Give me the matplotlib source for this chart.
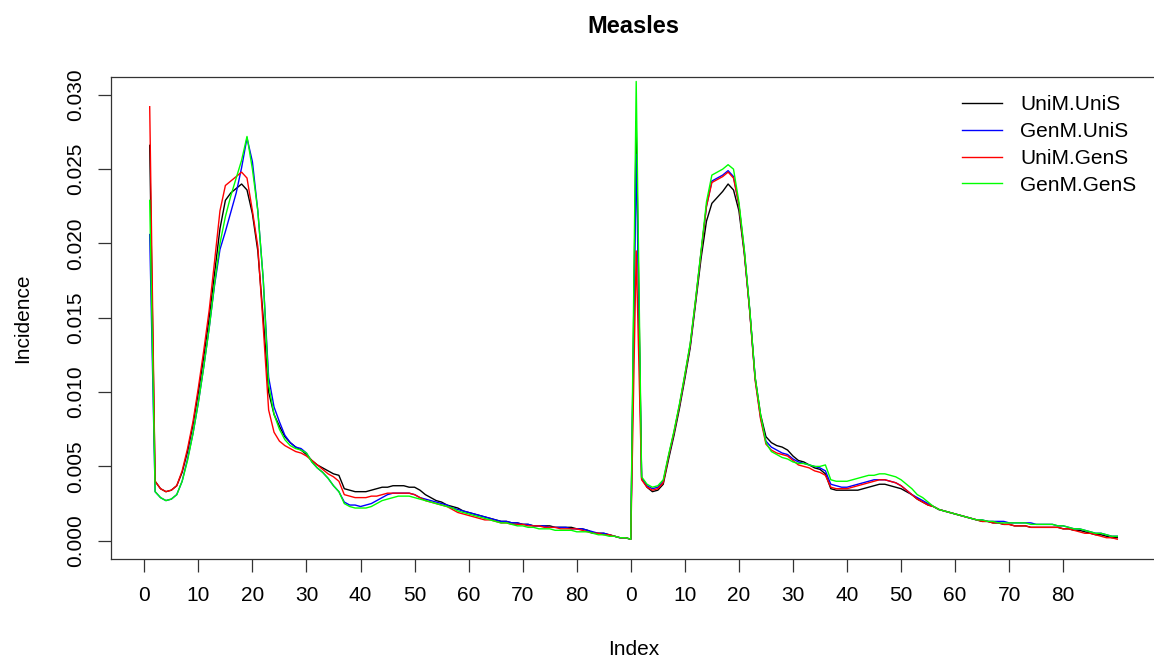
import numpy as np
import matplotlib
matplotlib.use("Agg")
import matplotlib.pyplot as plt

plt.rcParams['font.family'] = ['Liberation Sans', 'DejaVu Sans']

# two blocks of 90 weeks each, plotted one after the other
series_names = ["UniM.UniS", "GenM.UniS", "UniM.GenS", "GenM.GenS"]
series_colors = ["black", "#0000FF", "#FF0000", "#00FF00"]

unim_unis = [
    # block 1
    0.0266, 0.0040, 0.0035, 0.0033, 0.0034, 0.0037, 0.0046, 0.0060, 0.0078, 0.0100,
    0.0124, 0.0150, 0.0180, 0.0210, 0.0229, 0.0234, 0.0237, 0.0240, 0.0236, 0.0220,
    0.0195, 0.0150, 0.0100, 0.0085, 0.0077, 0.0070, 0.0066, 0.0063, 0.0061, 0.0058,
    0.0054, 0.0051, 0.0049, 0.0047, 0.0045, 0.0044, 0.0035, 0.0034, 0.0033, 0.0033,
    0.0033, 0.0034, 0.0035, 0.0036, 0.0036, 0.0037, 0.0037, 0.0037, 0.0036, 0.0036,
    0.0034, 0.0031, 0.0029, 0.0027, 0.0026, 0.0024, 0.0023, 0.0022, 0.0020, 0.0019,
    0.0018, 0.0017, 0.0016, 0.0015, 0.0014, 0.0013, 0.0013, 0.0012, 0.0012, 0.0011,
    0.0011, 0.0010, 0.0010, 0.0010, 0.0010, 0.0009, 0.0009, 0.0009, 0.0009, 0.0008,
    0.0008, 0.0007, 0.0005, 0.0005, 0.0005, 0.0004, 0.0003, 0.0002, 0.0002, 0.0001,
    # block 2
    0.0282, 0.0042, 0.0036, 0.0033, 0.0034, 0.0038, 0.0055, 0.0071, 0.0089, 0.0109,
    0.0130, 0.0160, 0.0190, 0.0215, 0.0227, 0.0231, 0.0235, 0.0240, 0.0236, 0.0222,
    0.0193, 0.0155, 0.0110, 0.0085, 0.0070, 0.0066, 0.0064, 0.0063, 0.0061, 0.0057,
    0.0054, 0.0053, 0.0051, 0.0049, 0.0048, 0.0045, 0.0035, 0.0034, 0.0034, 0.0034,
    0.0034, 0.0034, 0.0035, 0.0036, 0.0037, 0.0038, 0.0038, 0.0037, 0.0036, 0.0035,
    0.0033, 0.0031, 0.0028, 0.0026, 0.0024, 0.0023, 0.0021, 0.0020, 0.0019, 0.0018,
    0.0017, 0.0016, 0.0015, 0.0014, 0.0013, 0.0013, 0.0012, 0.0012, 0.0011, 0.0011,
    0.0010, 0.0010, 0.0010, 0.0009, 0.0009, 0.0009, 0.0009, 0.0009, 0.0009, 0.0008,
    0.0008, 0.0007, 0.0007, 0.0006, 0.0005, 0.0004, 0.0004, 0.0003, 0.0002, 0.0002,
]

genm_unis = [
    0.0206, 0.0033, 0.0029, 0.0027, 0.0028, 0.0031, 0.0040, 0.0055, 0.0072, 0.0093,
    0.0117, 0.0143, 0.0172, 0.0196, 0.0208, 0.0221, 0.0234, 0.0251, 0.0271, 0.0255,
    0.0222, 0.0176, 0.0110, 0.0090, 0.0080, 0.0071, 0.0066, 0.0063, 0.0062, 0.0059,
    0.0053, 0.0049, 0.0046, 0.0042, 0.0037, 0.0033, 0.0026, 0.0024, 0.0024, 0.0023,
    0.0024, 0.0025, 0.0027, 0.0029, 0.0031, 0.0032, 0.0032, 0.0032, 0.0032, 0.0031,
    0.0029, 0.0028, 0.0027, 0.0026, 0.0025, 0.0024, 0.0022, 0.0021, 0.0020, 0.0019,
    0.0018, 0.0017, 0.0016, 0.0015, 0.0014, 0.0013, 0.0013, 0.0012, 0.0012, 0.0011,
    0.0011, 0.0010, 0.0010, 0.0010, 0.0009, 0.0009, 0.0009, 0.0009, 0.0008, 0.0008,
    0.0008, 0.0007, 0.0006, 0.0005, 0.0005, 0.0004, 0.0003, 0.0002, 0.0002, 0.0001,
    0.0260, 0.0042, 0.0037, 0.0035, 0.0036, 0.0040, 0.0057, 0.0073, 0.0091, 0.0111,
    0.0132, 0.0162, 0.0194, 0.0225, 0.0242, 0.0244, 0.0246, 0.0249, 0.0245, 0.0226,
    0.0195, 0.0155, 0.0109, 0.0083, 0.0067, 0.0063, 0.0061, 0.0059, 0.0058, 0.0055,
    0.0053, 0.0052, 0.0051, 0.0050, 0.0049, 0.0047, 0.0038, 0.0037, 0.0036, 0.0036,
    0.0037, 0.0038, 0.0039, 0.0040, 0.0041, 0.0041, 0.0041, 0.0040, 0.0039, 0.0037,
    0.0034, 0.0031, 0.0029, 0.0027, 0.0025, 0.0023, 0.0021, 0.0020, 0.0019, 0.0018,
    0.0017, 0.0016, 0.0015, 0.0014, 0.0014, 0.0013, 0.0013, 0.0013, 0.0013, 0.0012,
    0.0012, 0.0012, 0.0012, 0.0012, 0.0011, 0.0011, 0.0011, 0.0011, 0.0010, 0.0010,
    0.0009, 0.0008, 0.0008, 0.0007, 0.0006, 0.0005, 0.0005, 0.0004, 0.0003, 0.0003,
]

unim_gens = [
    0.0292, 0.0040, 0.0035, 0.0033, 0.0034, 0.0037, 0.0047, 0.0062, 0.0080, 0.0103,
    0.0128, 0.0155, 0.0188, 0.0222, 0.0239, 0.0242, 0.0245, 0.0248, 0.0244, 0.0222,
    0.0198, 0.0144, 0.0088, 0.0073, 0.0067, 0.0064, 0.0062, 0.0060, 0.0059, 0.0057,
    0.0054, 0.0051, 0.0048, 0.0045, 0.0043, 0.0040, 0.0031, 0.0030, 0.0029, 0.0029,
    0.0029, 0.0030, 0.0030, 0.0031, 0.0032, 0.0032, 0.0032, 0.0032, 0.0032, 0.0031,
    0.0029, 0.0027, 0.0026, 0.0025, 0.0024, 0.0023, 0.0021, 0.0019, 0.0018, 0.0017,
    0.0016, 0.0015, 0.0014, 0.0014, 0.0013, 0.0012, 0.0012, 0.0011, 0.0011, 0.0011,
    0.0010, 0.0010, 0.0010, 0.0009, 0.0009, 0.0009, 0.0008, 0.0008, 0.0008, 0.0008,
    0.0007, 0.0006, 0.0005, 0.0005, 0.0004, 0.0004, 0.0003, 0.0002, 0.0002, 0.0001,
    0.0195, 0.0041, 0.0036, 0.0034, 0.0035, 0.0039, 0.0057, 0.0073, 0.0091, 0.0111,
    0.0132, 0.0162, 0.0194, 0.0225, 0.0241, 0.0243, 0.0245, 0.0248, 0.0244, 0.0226,
    0.0194, 0.0154, 0.0108, 0.0082, 0.0065, 0.0061, 0.0059, 0.0058, 0.0057, 0.0054,
    0.0051, 0.0050, 0.0049, 0.0047, 0.0046, 0.0044, 0.0036, 0.0035, 0.0035, 0.0035,
    0.0036, 0.0037, 0.0038, 0.0039, 0.0040, 0.0041, 0.0041, 0.0040, 0.0039, 0.0037,
    0.0034, 0.0031, 0.0028, 0.0026, 0.0024, 0.0023, 0.0021, 0.0020, 0.0019, 0.0018,
    0.0017, 0.0016, 0.0015, 0.0014, 0.0013, 0.0013, 0.0012, 0.0012, 0.0011, 0.0011,
    0.0010, 0.0010, 0.0010, 0.0009, 0.0009, 0.0009, 0.0009, 0.0009, 0.0009, 0.0008,
    0.0008, 0.0007, 0.0006, 0.0005, 0.0005, 0.0004, 0.0003, 0.0002, 0.0002, 0.0001,
]

genm_gens = [
    0.0229, 0.0033, 0.0029, 0.0027, 0.0028, 0.0031, 0.0040, 0.0054, 0.0072, 0.0093,
    0.0117, 0.0143, 0.0173, 0.0200, 0.0218, 0.0232, 0.0244, 0.0256, 0.0272, 0.0250,
    0.0222, 0.0176, 0.0105, 0.0085, 0.0075, 0.0068, 0.0064, 0.0062, 0.0061, 0.0059,
    0.0053, 0.0049, 0.0046, 0.0042, 0.0037, 0.0033, 0.0025, 0.0023, 0.0022, 0.0022,
    0.0022, 0.0023, 0.0025, 0.0027, 0.0028, 0.0029, 0.0030, 0.0030, 0.0030, 0.0029,
    0.0028, 0.0027, 0.0026, 0.0025, 0.0024, 0.0023, 0.0022, 0.0020, 0.0019, 0.0018,
    0.0017, 0.0016, 0.0015, 0.0014, 0.0013, 0.0012, 0.0012, 0.0011, 0.0010, 0.0010,
    0.0009, 0.0009, 0.0008, 0.0008, 0.0008, 0.0007, 0.0007, 0.0007, 0.0007, 0.0006,
    0.0006, 0.0006, 0.0005, 0.0004, 0.0004, 0.0003, 0.0003, 0.0002, 0.0002, 0.0001,
    0.0309, 0.0043, 0.0038, 0.0036, 0.0037, 0.0041, 0.0058, 0.0074, 0.0092, 0.0112,
    0.0133, 0.0163, 0.0195, 0.0228, 0.0246, 0.0248, 0.0250, 0.0253, 0.0250, 0.0228,
    0.0196, 0.0156, 0.0110, 0.0085, 0.0066, 0.0060, 0.0058, 0.0056, 0.0055, 0.0053,
    0.0052, 0.0052, 0.0051, 0.0050, 0.0050, 0.0051, 0.0041, 0.0040, 0.0040, 0.0040,
    0.0041, 0.0042, 0.0043, 0.0044, 0.0044, 0.0045, 0.0045, 0.0044, 0.0043, 0.0041,
    0.0038, 0.0035, 0.0031, 0.0029, 0.0026, 0.0023, 0.0021, 0.0020, 0.0019, 0.0018,
    0.0017, 0.0016, 0.0015, 0.0014, 0.0014, 0.0013, 0.0013, 0.0012, 0.0012, 0.0012,
    0.0012, 0.0012, 0.0012, 0.0011, 0.0011, 0.0011, 0.0011, 0.0011, 0.0010, 0.0010,
    0.0009, 0.0008, 0.0008, 0.0007, 0.0006, 0.0005, 0.0005, 0.0004, 0.0003, 0.0003,
]

tick_pos = list(range(0, 90, 10)) + list(range(90, 180, 10))
tick_labels = [str(t) for t in range(0, 90, 10)] * 2
ytick_vals = [0.000, 0.005, 0.010, 0.015, 0.020, 0.025, 0.030]

all_series = [unim_unis, genm_unis, unim_gens, genm_gens]
index = np.arange(1, len(unim_unis) + 1)

fig = plt.figure(figsize=(11.54, 6.61), dpi=100)
ax = fig.add_axes([111 / 1154, 102 / 661, 1045 / 1154, 482 / 661])

for name, col, vals in zip(series_names, series_colors, all_series):
    ax.plot(index, vals, color=col, lw=1.0, label=name)

ax.set_xlim(-6.16, 187.16)
ax.set_ylim(-0.00123, 0.0312)
ax.set_xticks(tick_pos)
ax.set_xticklabels(tick_labels)
ax.set_yticks(ytick_vals)
ax.set_yticklabels(["%.3f" % v for v in ytick_vals], rotation=90, va="center")
ax.tick_params(axis="both", direction="out", length=9.4, width=0.9, labelsize=15,
               colors="#333333", labelcolor="black")
ax.tick_params(axis="x", pad=10)
ax.tick_params(axis="y", pad=9)
for s in ax.spines.values():
    s.set_color("#333333")
    s.set_linewidth(0.9)

ax.set_title("Measles", fontsize=17, fontweight="bold", y=1.075)
ax.set_xlabel("Index", fontsize=15)
ax.xaxis.set_label_coords(0.5, -0.168)
ax.set_ylabel("Incidence", fontsize=15)
ax.yaxis.set_label_coords(-0.075, 0.5)

ax.legend(loc="upper left", bbox_to_anchor=((962 - 111) / 1045, (559 - 95) / 482),
          frameon=False, fontsize=15, handlelength=1.9, handletextpad=0.9,
          labelspacing=0.38, borderpad=0, borderaxespad=0)

fig.savefig("out.png", dpi=100)
plt.close()
